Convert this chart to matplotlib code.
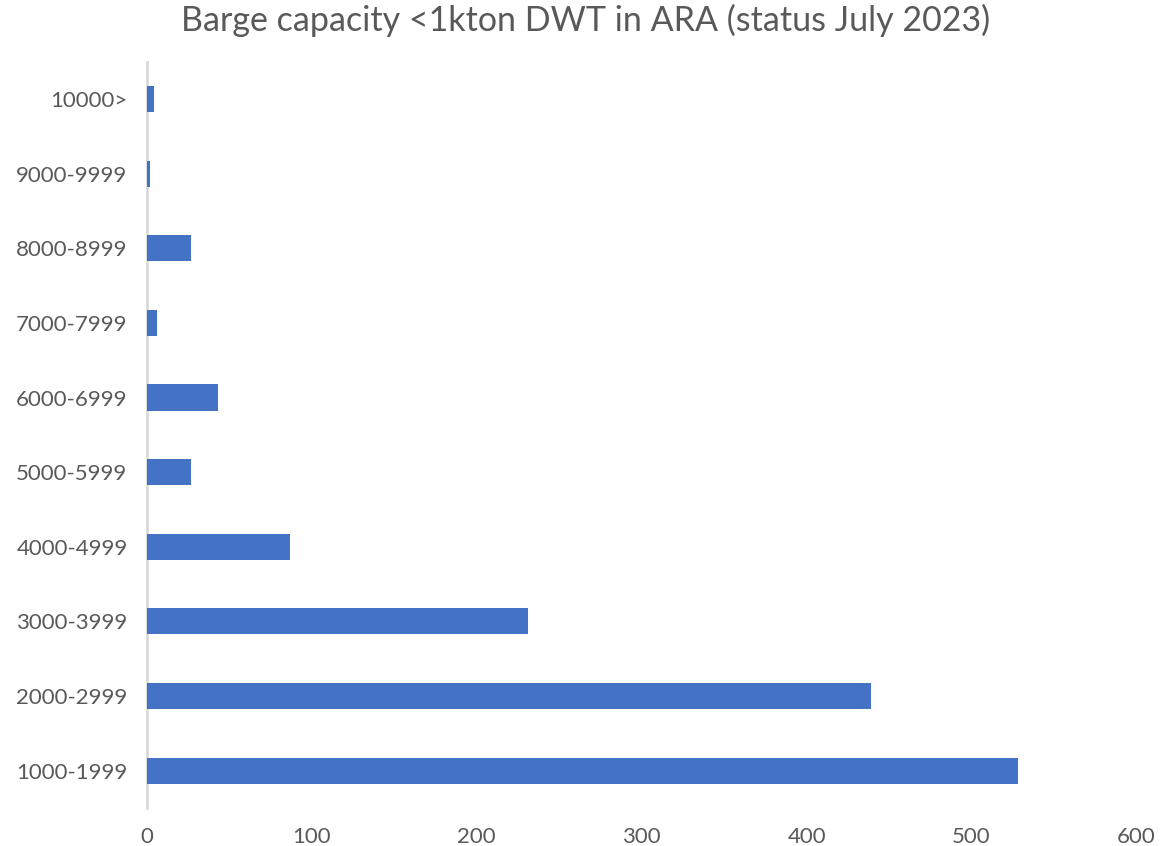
import matplotlib.pyplot as plt

categories = ["1000-1999", "2000-2999", "3000-3999", "4000-4999", "5000-5999",
              "6000-6999", "7000-7999", "8000-8999", "9000-9999", "10000>"]
barges = [528, 439, 231, 87, 27, 43, 6, 27, 2, 4]
x_ticks = [0, 100, 200, 300, 400, 500, 600]

plt.rcParams['font.family'] = ['Lato', 'DejaVu Sans']
text_color = '#595959'

fig = plt.figure(figsize=(11.6, 8.46), dpi=100)
ax = fig.add_axes([0.1267, 0.045, 0.853, 0.882])

ax.barh(categories, barges, height=0.35, color='#4472C4', zorder=3)
ax.set_xlim(0, 600)
ax.set_ylim(-0.5, len(categories) - 0.5)
ax.set_xticks(x_ticks)

for side in ['top', 'right', 'bottom']:
    ax.spines[side].set_visible(False)
ax.spines['left'].set_color('#D9D9D9')
ax.spines['left'].set_linewidth(2)

ax.tick_params(axis='both', length=0, labelsize=16, labelcolor=text_color)
ax.tick_params(axis='x', pad=14)
ax.tick_params(axis='y', pad=14)

fig.suptitle("Barge capacity <1kton DWT in ARA (status July 2023)",
             fontsize=24.5, color=text_color, x=0.505, y=0.995)

fig.savefig("out.png", dpi=100)
